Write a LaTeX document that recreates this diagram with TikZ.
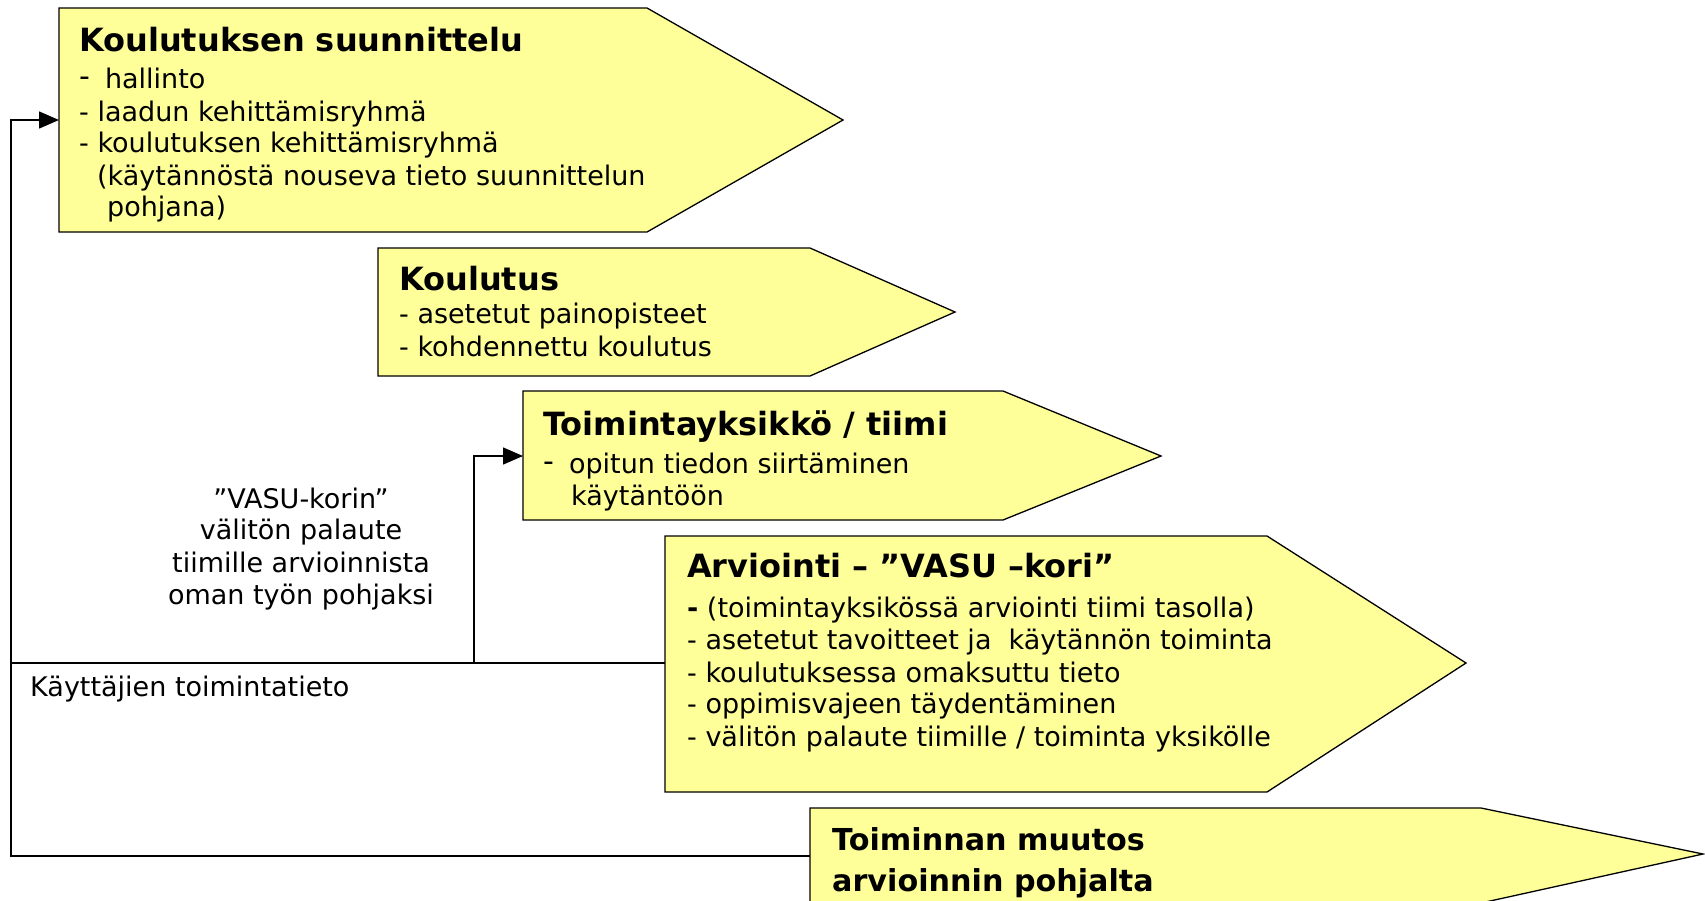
\documentclass[tikz,border=0pt]{standalone}
\usepackage{fontspec}
\setmainfont{DejaVu Sans}
\usetikzlibrary{arrows.meta}
\definecolor{boxyellow}{RGB}{255,255,153}
\tikzset{
 box/.style={draw=black, fill=boxyellow, line width=1.3pt, line join=miter},
 ttl/.style={anchor=base west, inner sep=0pt, font=\fontsize{32}{38}\selectfont\bfseries},
 ttlb/.style={anchor=base west, inner sep=0pt, font=\fontsize{30.2}{38}\selectfont\bfseries},
 txt/.style={anchor=base west, inner sep=0pt, font=\fontsize{27}{32}\selectfont},
 ctxt/.style={anchor=base, inner sep=0pt, font=\fontsize{27}{32}\selectfont},
 conn/.style={draw=black, line width=1.5pt},
 arr/.style={conn, -{Triangle[length=20pt,width=17pt]}}
}
\newcommand{\bigdash}{\raisebox{2pt}{\fontsize{30}{32}\selectfont -}\hspace{15pt}}
\begin{document}
\begin{tikzpicture}[x=1pt,y=-1pt]
\useasboundingbox (0,0) rectangle (1705,900);
\fill[white] (0,0) rectangle (1705,900);

% shape 1
\draw[box] (59,8) -- (647,8) -- (843,120) -- (647,232) -- (59,232) -- cycle;
\coordinate (s1w) at (59,120);
\node[ttl] (t1) at (79,51) {Koulutuksen suunnittelu};
\node[txt] (t1a) at (79,88) {\bigdash hallinto};
\node[txt] (t1b) at (79,121) {- laadun kehittämisryhmä};
\node[txt] (t1c) at (79,152) {- koulutuksen kehittämisryhmä};
\node[txt] (t1d) at (97,185) {(käytännöstä nouseva tieto suunnittelun};
\node[txt] (t1e) at (107,216) {pohjana)};

% shape 2
\draw[box] (378,248) -- (810,248) -- (955,312) -- (810,376) -- (378,376) -- cycle;
\node[ttl] (t2) at (399,290) {Koulutus};
\node[txt] (t2a) at (399,323) {- asetetut painopisteet};
\node[txt] (t2b) at (399,356) {- kohdennettu koulutus};

% shape 3
\draw[box] (523,391) -- (1003,391) -- (1161,456) -- (1003,520) -- (523,520) -- cycle;
\coordinate (s3w) at (523,456);
\node[ttl] (t3) at (543,435) {Toimintayksikkö / tiimi};
\node[txt] (t3a) at (543,473) {\bigdash opitun tiedon siirtäminen};
\node[txt] (t3b) at (571,505) {käytäntöön};

% shape 4
\draw[box] (665,536) -- (1267,536) -- (1466,663) -- (1267,792) -- (665,792) -- cycle;
\coordinate (s4w) at (665,663);
\node[ttl] (t4) at (687,577) {Arviointi – ”VASU –kori”};
\node[txt] (t4a) at (687,617) {\textbf{-} (toimintayksikössä arviointi tiimi tasolla)};
\node[txt] (t4b) at (687,649) {- asetetut tavoitteet ja\ \ käytännön toiminta};
\node[txt] (t4c) at (687,682) {- koulutuksessa omaksuttu tieto};
\node[txt] (t4d) at (687,713) {- oppimisvajeen täydentäminen};
\node[txt] (t4e) at (687,746) {- välitön palaute tiimille / toiminta yksikölle};

% shape 5
\draw[box] (810,808) -- (1481,808) -- (1703,854) -- (1481,903) -- (810,903) -- cycle;
\coordinate (s5w) at (810,856);
\node[ttlb] (t5a) at (832,850) {Toiminnan muutos};
\node[ttlb] (t5b) at (832,891) {arvioinnin pohjalta};

% labels
\node[ctxt] (l1) at (301,508) {”VASU-korin”};
\node[ctxt] (l2) at (301,539) {välitön palaute};
\node[ctxt] (l3) at (301,572) {tiimille arvioinnista};
\node[ctxt] (l4) at (301,604) {oman työn pohjaksi};
\node[txt] (l5) at (30,696) {Käyttäjien toimintatieto};

% connectors
\coordinate (loopb) at (11,856);
\coordinate (jn) at (11,663);
\coordinate (br) at (474,663);
\draw[arr] (s5w) -- (loopb) |- (s1w);
\draw[conn] (s4w) -- (jn);
\draw[arr] (br) |- (s3w);
\end{tikzpicture}
\end{document}
